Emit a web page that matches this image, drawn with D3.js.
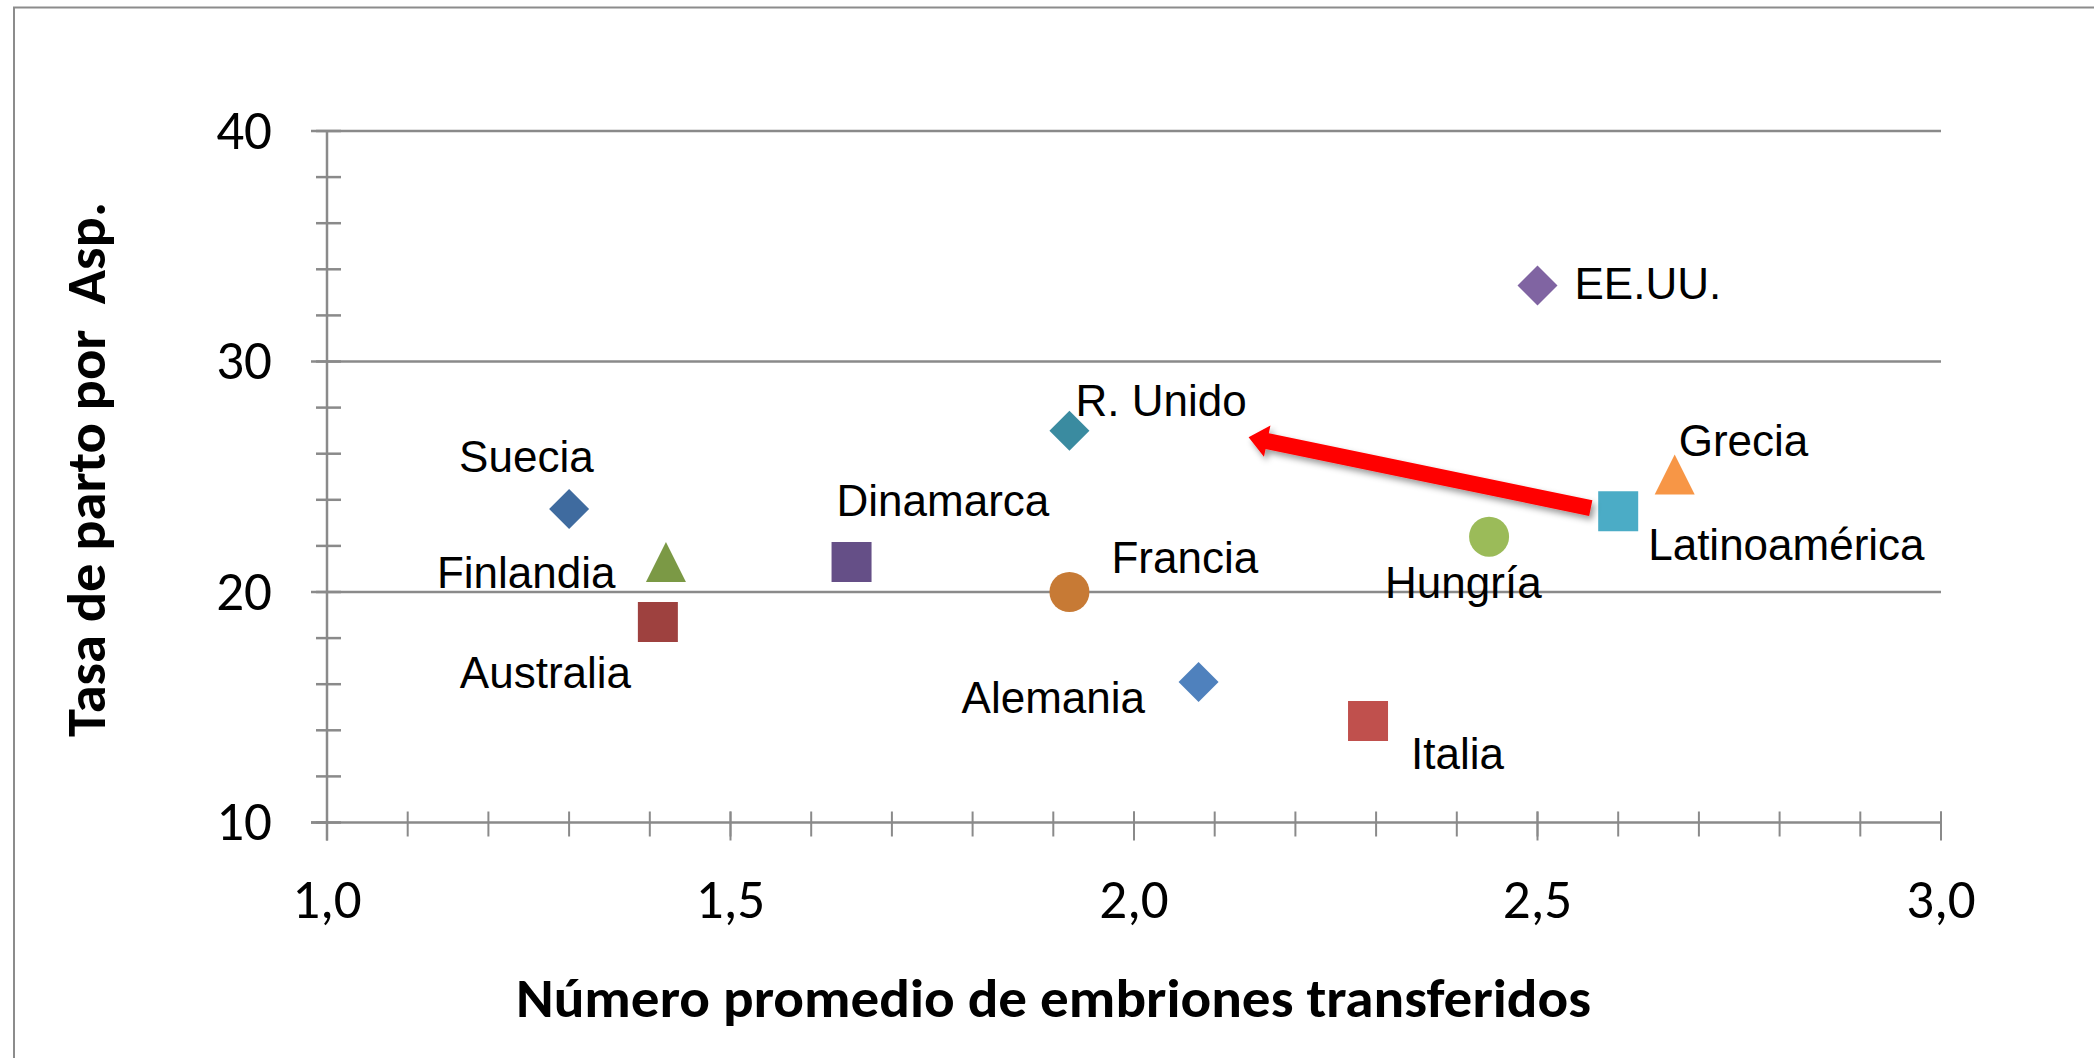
<!DOCTYPE html>
<html>
<head>
<meta charset="utf-8">
<script src="https://cdn.jsdelivr.net/npm/d3@7"></script>
<style>
  html, body { margin: 0; padding: 0; background: #ffffff; }
  svg { display: block; }
</style>
</head>
<body>
<script>
// Data: average embryos transferred vs. delivery rate per aspiration
const countries = ["Suecia", "Finlandia", "Australia", "Dinamarca", "R. Unido", "Francia",
                   "Alemania", "Italia", "Hungría", "EE.UU.", "Latinoamérica", "Grecia"];
const embrionesTransferidos = [1.30, 1.42, 1.41, 1.65, 1.92, 1.92, 2.08, 2.29, 2.44, 2.50, 2.60, 2.67];
const tasaPartoPorAsp = [23.6, 21.3, 18.7, 21.3, 27.0, 20.0, 16.1, 14.4, 22.4, 33.3, 23.5, 25.1];
const markerShapes = ["diamond", "triangle", "square", "square", "diamond", "circle",
                      "diamond", "square", "circle", "diamond", "square", "triangle"];
const markerColors = ["#3F6B9F", "#7B9945", "#9E413F", "#654F87", "#3A8BA0", "#C77A35",
                      "#4F81BD", "#C0504D", "#9BBB59", "#8064A2", "#4BACC6", "#F79646"];

const xTickValues = [1.0, 1.5, 2.0, 2.5, 3.0];
const xTickLabels = ["1,0", "1,5", "2,0", "2,5", "3,0"];
const yTickValues = [10, 20, 30, 40];
const yTickLabels = ["10", "20", "30", "40"];

const xTitle = "Número promedio de embriones transferidos";
const yTitle = "Tasa de parto por  Asp.";

// Annotation arrow (data units): from Latinoamérica towards R. Unido
const arrowFrom = [2.566, 23.64];
const arrowTo = [2.142, 26.71];

// ---- layout ----
const W = 2094, H = 1058;
const plot = { left: 327, right: 1941, top: 131, bottom: 822.5 };
const markerSize = 40;
const gridColor = "#8A8A8A";
const axisFont = "Carlito, Lato, 'Open Sans', sans-serif";
const labelFont = "'Liberation Sans', Arial, sans-serif";
// label placement relative to each marker centre (text start, baseline)
const labelOffsets = [[-110, -37], [-229, 26], [-198, 66], [-15, -46], [6, -15], [42, -19],
                      [-237, 31], [43, 48], [-104, 61], [37, 14], [30, 49], [4, -18]];

const svg = d3.select("body").append("svg")
  .attr("width", W).attr("height", H)
  .attr("viewBox", `0 0 ${W} ${H}`);

const defs = svg.append("defs");
defs.append("filter").attr("id", "arrowShadow")
  .attr("x", "-20%").attr("y", "-50%").attr("width", "140%").attr("height", "200%")
  .append("feDropShadow")
  .attr("dx", 3).attr("dy", 4).attr("stdDeviation", 3)
  .attr("flood-color", "#000").attr("flood-opacity", 0.4);

// chart frame
svg.append("rect")
  .attr("x", 14).attr("y", 7.5)
  .attr("width", W + 50).attr("height", H + 50)
  .attr("fill", "#fff").attr("stroke", "#8C8C8C").attr("stroke-width", 2);

const x = d3.scaleLinear().domain([1, 3]).range([plot.left, plot.right]);
const y = d3.scaleLinear().domain([10, 40]).range([plot.bottom, plot.top]);

// horizontal gridlines
svg.append("g").selectAll("line")
  .data(yTickValues.filter(v => v > 10))
  .join("line")
  .attr("x1", plot.left).attr("x2", plot.right)
  .attr("y1", d => y(d)).attr("y2", d => y(d))
  .attr("stroke", gridColor).attr("stroke-width", 2.5);

// y axis: line, major and minor ticks
const yAxis = svg.append("g");
yAxis.append("line")
  .attr("x1", plot.left).attr("x2", plot.left)
  .attr("y1", plot.top).attr("y2", plot.bottom + 18)
  .attr("stroke", gridColor).attr("stroke-width", 2.5);
yAxis.selectAll("line.minor")
  .data(d3.range(10, 40.01, 2))
  .join("line").attr("class", "minor")
  .attr("x1", plot.left - 11).attr("x2", plot.left + 14)
  .attr("y1", d => y(d)).attr("y2", d => y(d))
  .attr("stroke", gridColor).attr("stroke-width", 2.5);
yAxis.selectAll("line.major")
  .data(yTickValues)
  .join("line").attr("class", "major")
  .attr("x1", plot.left - 16).attr("x2", plot.left)
  .attr("y1", d => y(d)).attr("y2", d => y(d))
  .attr("stroke", gridColor).attr("stroke-width", 2.5);
yAxis.selectAll("text")
  .data(yTickValues)
  .join("text")
  .attr("x", 272).attr("y", d => y(d))
  .attr("dy", "0.32em")
  .attr("text-anchor", "end")
  .attr("font-family", axisFont).attr("font-size", 55)
  .attr("fill", "#000")
  .text((d, i) => yTickLabels[i]);

// x axis: line, minor and major ticks
const xAxis = svg.append("g");
xAxis.append("line")
  .attr("x1", plot.left - 16).attr("x2", plot.right)
  .attr("y1", plot.bottom).attr("y2", plot.bottom)
  .attr("stroke", gridColor).attr("stroke-width", 2.5);
xAxis.selectAll("line.minor")
  .data(d3.range(11, 31).map(v => v / 10))
  .join("line").attr("class", "minor")
  .attr("x1", d => x(d)).attr("x2", d => x(d))
  .attr("y1", plot.bottom - 11).attr("y2", plot.bottom + 14)
  .attr("stroke", gridColor).attr("stroke-width", 2);
xAxis.selectAll("line.major")
  .data(xTickValues)
  .join("line").attr("class", "major")
  .attr("x1", d => x(d)).attr("x2", d => x(d))
  .attr("y1", plot.bottom - 11).attr("y2", plot.bottom + 18)
  .attr("stroke", gridColor).attr("stroke-width", 2);
xAxis.selectAll("text")
  .data(xTickValues)
  .join("text")
  .attr("x", d => x(d)).attr("y", 918)
  .attr("text-anchor", "middle")
  .attr("font-family", axisFont).attr("font-size", 55)
  .attr("fill", "#000")
  .text((d, i) => xTickLabels[i]);

// axis titles
svg.append("text")
  .attr("x", 1053.5).attr("y", 1017)
  .attr("text-anchor", "middle")
  .attr("font-family", axisFont).attr("font-weight", "bold").attr("font-size", 54)
  .attr("textLength", 1075).attr("lengthAdjust", "spacingAndGlyphs")
  .attr("fill", "#000")
  .text(xTitle);

svg.append("text")
  .attr("transform", "translate(105,469.5) rotate(-90)")
  .attr("text-anchor", "middle")
  .attr("font-family", axisFont).attr("font-weight", "bold").attr("font-size", 54)
  .attr("textLength", 535).attr("lengthAdjust", "spacingAndGlyphs")
  .attr("fill", "#000")
  .style("white-space", "pre")
  .text(yTitle);

// marker path generators (centred at 0,0)
function markerPath(shape, s) {
  const h = s / 2;
  switch (shape) {
    case "diamond": return `M0,${-h}L${h},0L0,${h}L${-h},0Z`;
    case "square": return `M${-h},${-h}H${h}V${h}H${-h}Z`;
    case "triangle": return `M0,${-h}L${h},${h}L${-h},${h}Z`;
    default: return `M${-h},0A${h},${h} 0 1,0 ${h},0A${h},${h} 0 1,0 ${-h},0Z`;
  }
}

const points = countries.map((c, i) => ({
  name: c, xv: embrionesTransferidos[i], yv: tasaPartoPorAsp[i],
  shape: markerShapes[i], color: markerColors[i], off: labelOffsets[i]
}));

svg.append("g").selectAll("path")
  .data(points)
  .join("path")
  .attr("transform", d => `translate(${x(d.xv)},${y(d.yv)})`)
  .attr("d", d => markerPath(d.shape, markerSize))
  .attr("fill", d => d.color);

svg.append("g").selectAll("text")
  .data(points)
  .join("text")
  .attr("x", d => x(d.xv) + d.off[0])
  .attr("y", d => y(d.yv) + d.off[1])
  .attr("font-family", labelFont).attr("font-size", 44)
  .attr("fill", "#000")
  .text(d => d.name);

// red block arrow with drop shadow
(function drawArrow() {
  const tx = x(arrowTo[0]), ty = y(arrowTo[1]);
  const fx = x(arrowFrom[0]), fy = y(arrowFrom[1]);
  const len = Math.hypot(fx - tx, fy - ty);
  const ux = (fx - tx) / len, uy = (fy - ty) / len;   // tip -> tail
  const nx = -uy, ny = ux;
  const shaftHalf = 8, headHalf = 16, headLen = 19;
  const bx = tx + ux * headLen, by = ty + uy * headLen;
  const pts = [
    [tx, ty],
    [bx + nx * headHalf, by + ny * headHalf],
    [bx + nx * shaftHalf, by + ny * shaftHalf],
    [fx + nx * shaftHalf, fy + ny * shaftHalf],
    [fx - nx * shaftHalf, fy - ny * shaftHalf],
    [bx - nx * shaftHalf, by - ny * shaftHalf],
    [bx - nx * headHalf, by - ny * headHalf]
  ];
  svg.append("path")
    .attr("d", d3.line()(pts) + "Z")
    .attr("fill", "#FF0000")
    .attr("filter", "url(#arrowShadow)");
})();
</script>
</body>
</html>
